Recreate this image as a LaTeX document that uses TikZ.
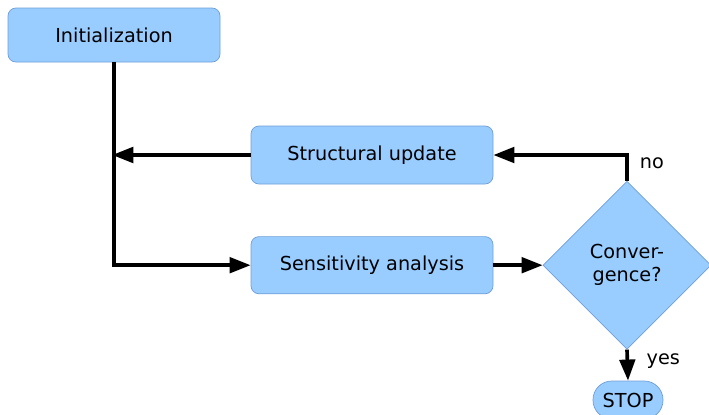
\documentclass[tikz,border=0pt]{standalone}
\usepackage{fontspec}
\setmainfont{DejaVu Sans}
\usetikzlibrary{positioning, arrows.meta, shapes.geometric}
\definecolor{boxfill}{HTML}{99CCFF}
\definecolor{boxline}{HTML}{6F9FD8}

\begin{document}
\begin{tikzpicture}[
  >={Triangle[length=15pt, width=11pt]},
  every node/.style={font=\fontsize{13.7}{16.5}\selectfont},
  proc/.style={align=center, rounded corners=0.2cm, draw=boxline, line width=0.5pt, fill=boxfill, minimum height=1.43cm},
  test/.style={diamond, aspect=1, align=center, draw=boxline, line width=0.5pt, fill=boxfill, inner sep=0pt, minimum size=4.2cm},
  term/.style={rounded corners=0.47cm, draw=boxline, line width=0.5pt, fill=boxfill, minimum width=1.75cm, minimum height=0.95cm},
  lbl/.style={inner sep=1pt},
  flow/.style={->, line width=2.6pt},
]
  \useasboundingbox (0,0) rectangle (17.725,10.35);
  \node[proc, minimum width=5.3cm, minimum height=1.35cm] (init) at (2.85,9.475) {Initialization};
  \node[proc, minimum width=6.05cm, minimum height=1.45cm] (upd) at (9.3,6.475) {Structural update};
  \node[proc, minimum width=6.05cm] (sens) at (9.3,3.72) {Sensitivity analysis};
  \node[test] (conv) at (15.675,3.72) {Conver-\\gence?};
  \node[term] (stop) at (15.7,0.35) {STOP};
  \coordinate (join) at (init.south |- upd.west);
  % main loop
  \draw[flow] (init.south) |- (sens.west);
  \draw[flow] (upd.west) -- ([xshift=-1.3pt]join);
  \draw[flow] (sens.east) -- (conv.west);
  \draw[flow] (conv.north) |- (upd.east);
  \draw[flow] (conv.south) -- (stop.north);
  \node[lbl, anchor=west] (no) at ([xshift=0.28cm, yshift=0.45cm]conv.north) {no};
  \node[lbl, anchor=west] (yes) at ([xshift=0.45cm, yshift=-0.28cm]conv.south) {yes};
\end{tikzpicture}
\end{document}
